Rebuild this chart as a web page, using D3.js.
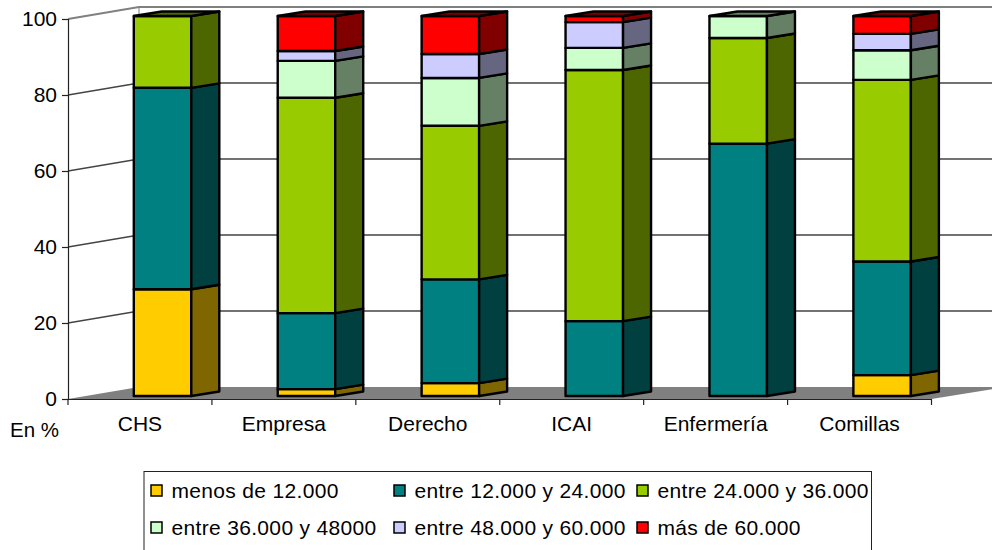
<!DOCTYPE html>
<html>
<head>
<meta charset="utf-8">
<script src="https://cdn.jsdelivr.net/npm/d3@7"></script>
<style>
body { margin: 0; background: #fff; overflow: hidden; }
text { font-family: "Liberation Sans", Arial, sans-serif; fill: #000; }
</style>
</head>
<body>
<div id="chart"></div>
<script>
const categories = ["CHS", "Empresa", "Derecho", "ICAI", "Enfermería", "Comillas"];
const seriesNames = ["menos de 12.000", "entre 12.000 y 24.000", "entre 24.000 y 36.000",
    "entre 36.000 y 48000", "entre 48.000 y 60.000", "más de 60.000"];
const menos12 = [28.1, 1.8, 3.4, 0, 0, 5.5];
const de12a24 = [53, 20, 27.3, 19.7, 66.4, 29.9];
const de24a36 = [18.9, 56.7, 40.4, 66.1, 27.8, 47.8];
const de36a48 = [0, 9.7, 12.6, 5.8, 5.8, 7.8];
const de48a60 = [0, 2.6, 6.3, 6.8, 0, 4.3];
const mas60 = [0, 9.2, 10, 1.6, 0, 4.7];
const seriesValues = [menos12, de12a24, de24a36, de36a48, de48a60, mas60];
const frontColors = ["#ffcc00", "#008080", "#99cc00", "#ccffcc", "#ccccff", "#ff0000"];
const sideColors = ["#806600", "#004040", "#4d6600", "#668066", "#666680", "#800000"];
const yTicks = [0, 20, 40, 60, 80, 100];

const width = 992, height = 550;

const svg = d3.select("#chart").append("svg")
    .attr("width", width)
    .attr("height", height);

// front plane of the 3d box
const x = d3.scaleBand().domain(categories).range([68, 931.5]);
const y = d3.scaleLinear().domain([0, 100]).range([399, 19]);

// the wall sits back from the axis, the bars are halfway in
const wallDx = 71, wallDy = -12;
const barOffset = 65.8, barWidth = 57.5, barDx = 28, barDy = -4.5, barLift = -3;

function pts(arr) { return arr.map(p => p.join(",")).join(" "); }

// grey floor
svg.append("polygon")
    .attr("points", pts([[x.range()[0], y(0)], [x.range()[0] + wallDx, y(0) + wallDy],
        [width + 2, y(0) + wallDy], [width + 2, y(0) - 10], [x.range()[1], y(0)]]))
    .attr("fill", "#808080");

// gridlines, side wall + back wall
yTicks.filter(d => d > 0).forEach(d => {
    let col = d == 100 ? "#808080" : "#444";
    let sw = d == 100 ? 2 : 1.3;
    svg.append("polyline")
        .attr("points", pts([[x.range()[0], y(d)], [x.range()[0] + wallDx, y(d) + wallDy], [width + 2, y(d) + wallDy]]))
        .attr("fill", "none")
        .attr("stroke", col)
        .attr("stroke-width", sw);
});
svg.append("line")
    .attr("x1", x.range()[0] + wallDx).attr("x2", x.range()[0] + wallDx)
    .attr("y1", y(100) + wallDy).attr("y2", y(0) + wallDy)
    .attr("stroke", "#808080");

// stacked bars
const rows = categories.map((c, i) => {
    let row = { cat: c };
    seriesNames.forEach((s, j) => { row[s] = seriesValues[j][i]; });
    return row;
});
const stacked = d3.stack().keys(seriesNames)(rows);

const bars = svg.append("g")
    .attr("stroke", "#000")
    .attr("stroke-width", 2.4)
    .attr("stroke-linejoin", "round");

categories.forEach((c, i) => {
    let x0 = x(c) + barOffset;
    let x1 = x0 + barWidth;
    let topColor = "#000";
    stacked.forEach((layer, j) => {
        let d = layer[i];
        if (d[1] - d[0] <= 0) return;
        let yb = y(d[0]) + barLift;
        let yt = y(d[1]) + barLift;
        bars.append("rect")
            .attr("x", x0).attr("y", yt)
            .attr("width", barWidth).attr("height", yb - yt)
            .attr("fill", frontColors[j]);
        bars.append("polygon")
            .attr("points", pts([[x1, yb], [x1 + barDx, yb + barDy], [x1 + barDx, yt + barDy], [x1, yt]]))
            .attr("fill", sideColors[j]);
        topColor = sideColors[j];
    });
    let yTop = y(100) + barLift;
    bars.append("polygon")
        .attr("points", pts([[x0, yTop], [x0 + barDx, yTop + barDy], [x1 + barDx, yTop + barDy], [x1, yTop]]))
        .attr("fill", topColor);
});

// axes
const yAxis = svg.append("g")
    .attr("transform", "translate(68,0)")
    .call(d3.axisLeft(y).tickValues(yTicks).tickSize(6).tickPadding(5));
yAxis.selectAll("text").style("font-size", "21px").style("font-family", "'Liberation Sans'");
yAxis.selectAll("line,path").attr("stroke", "#222").attr("stroke-width", 1.2);

const xAxis = svg.append("g")
    .attr("transform", "translate(0,399)")
    .call(d3.axisBottom(x).tickSize(0).tickPadding(17));
xAxis.selectAll("text")
    .style("font-size", "21px")
    .style("font-family", "'Liberation Sans'");
xAxis.select("path").attr("stroke", "#222").attr("stroke-width", 1.2);
d3.range(categories.length + 1).forEach(i => {
    xAxis.append("line")
        .attr("x1", x.range()[0] + i * x.step()).attr("x2", x.range()[0] + i * x.step())
        .attr("y1", 0).attr("y2", 6)
        .attr("stroke", "#222").attr("stroke-width", 1.2);
});

svg.append("text")
    .attr("x", 10).attr("y", 437)
    .style("font-size", "20.5px")
    .text("En %");

// legend
const legend = svg.append("g");
legend.append("rect")
    .attr("x", 144).attr("y", 471.5)
    .attr("width", 727.5).attr("height", 85)
    .attr("fill", "#fff").attr("stroke", "#222");
const legendCols = [151, 394, 637], legendRows = [491, 528];
seriesNames.forEach((s, i) => {
    let lx = legendCols[i % 3], ly = legendRows[Math.floor(i / 3)];
    legend.append("rect")
        .attr("x", lx).attr("y", ly - 6)
        .attr("width", 11).attr("height", 11)
        .attr("fill", frontColors[i])
        .attr("stroke", "#000").attr("stroke-width", 1.5);
    legend.append("text")
        .attr("x", lx + 20.5).attr("y", ly + 7)
        .style("font-size", "21px")
        .style("letter-spacing", "0.33px")
        .text(s);
});
</script>
</body>
</html>
